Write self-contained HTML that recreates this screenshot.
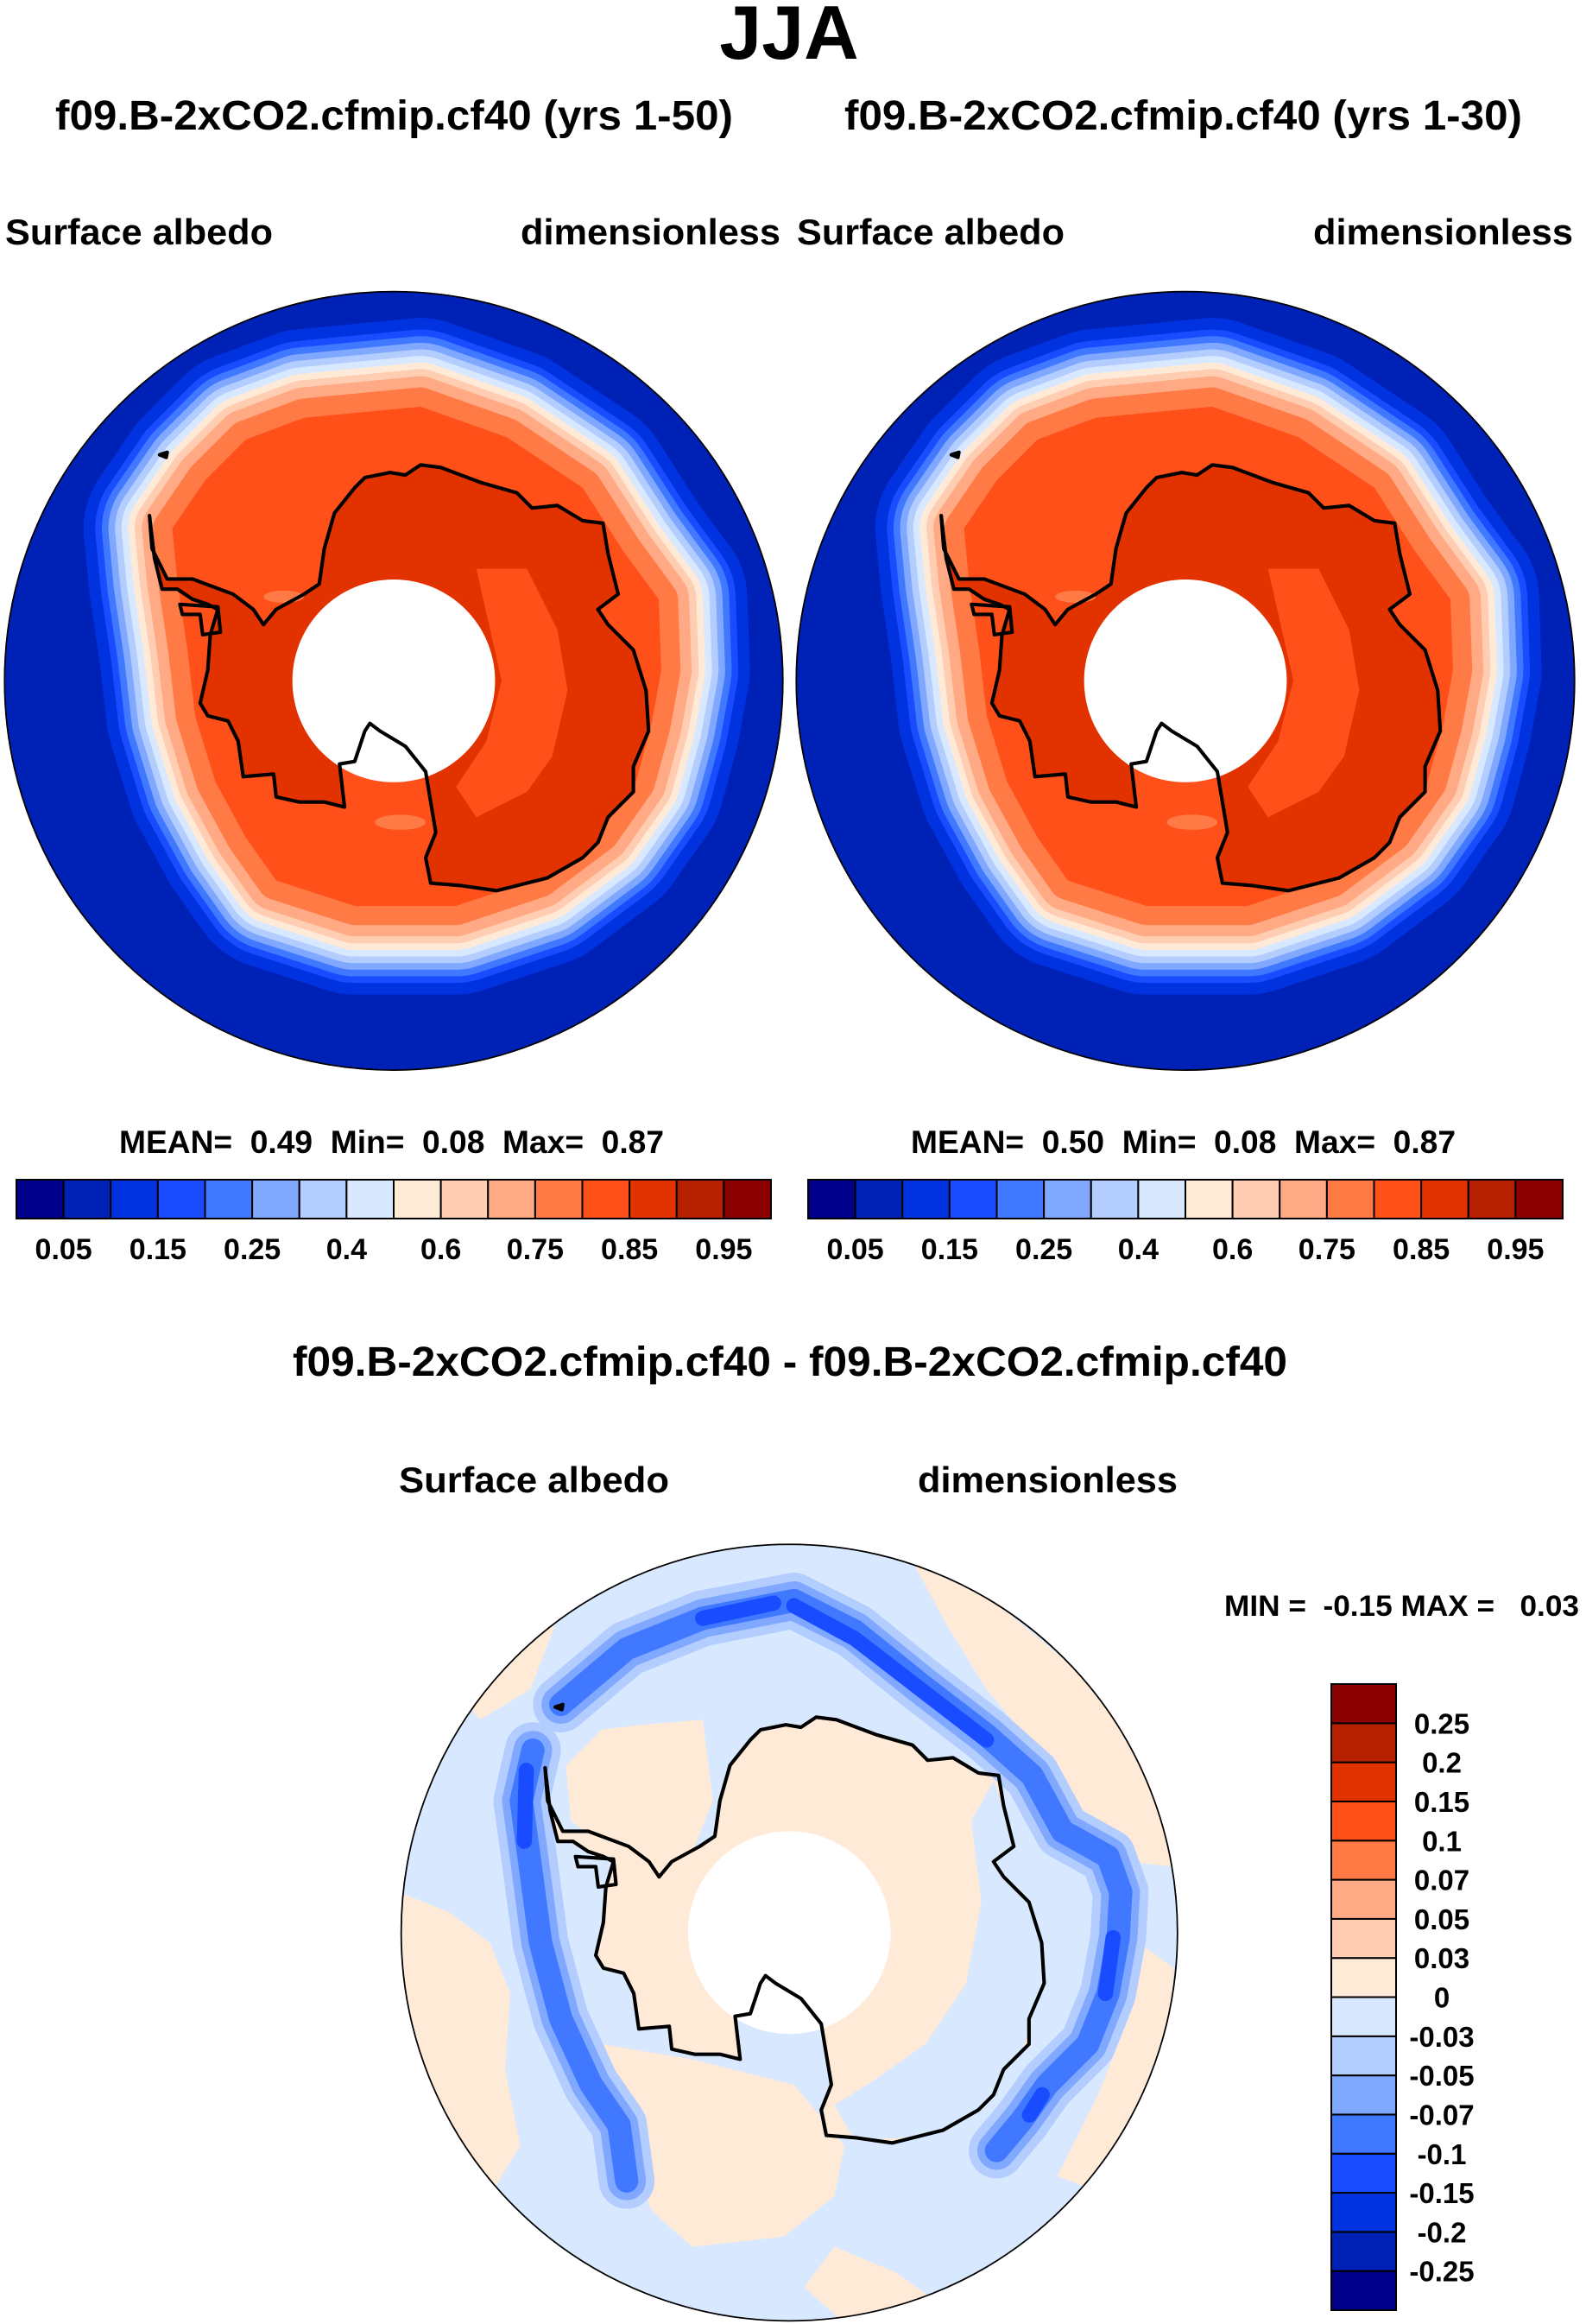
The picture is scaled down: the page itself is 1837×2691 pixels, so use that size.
<!DOCTYPE html>
<html><head><meta charset="utf-8">
<style>
html,body{margin:0;padding:0;background:#fff;}
svg{display:block;}
text{font-family:"Liberation Sans",Arial,sans-serif;font-weight:bold;fill:#000;}
</style></head>
<body>
<svg id="fig" width="1837" height="2691" viewBox="0 0 1837 2691" xmlns="http://www.w3.org/2000/svg">
<defs>
  <clipPath id="clipA"><circle cx="777" cy="781" r="768"/></clipPath>
  <clipPath id="clipB"><circle cx="791" cy="780" r="766"/></clipPath>
</defs>
<text x="914" y="68" font-size="88" text-anchor="middle">JJA</text>
<text x="64" y="150" font-size="48" textLength="785" lengthAdjust="spacingAndGlyphs">f09.B-2xCO2.cfmip.cf40 (yrs 1-50)</text>
<text x="978" y="150" font-size="48" textLength="785" lengthAdjust="spacingAndGlyphs">f09.B-2xCO2.cfmip.cf40 (yrs 1-30)</text>
<text x="6" y="283" font-size="42" textLength="310" lengthAdjust="spacingAndGlyphs">Surface albedo</text>
<text x="603" y="283" font-size="42" textLength="301" lengthAdjust="spacingAndGlyphs">dimensionless</text>
<text x="923" y="283" font-size="42" textLength="310" lengthAdjust="spacingAndGlyphs">Surface albedo</text>
<text x="1521" y="283" font-size="42" textLength="301" lengthAdjust="spacingAndGlyphs">dimensionless</text>

<g id="mapL" transform="translate(0,330) scale(0.5869)"></g>
<g id="mapR" transform="translate(917,330) scale(0.5869)"></g>

<text x="138" y="1335" font-size="37" textLength="631" lengthAdjust="spacingAndGlyphs" xml:space="preserve">MEAN=  0.49  Min=  0.08  Max=  0.87</text>
<text x="1055" y="1335" font-size="37" textLength="631" lengthAdjust="spacingAndGlyphs" xml:space="preserve">MEAN=  0.50  Min=  0.08  Max=  0.87</text>
<g id="cbL"></g>
<g id="cbR"></g>

<text x="339" y="1593" font-size="48" textLength="1152" lengthAdjust="spacingAndGlyphs">f09.B-2xCO2.cfmip.cf40 - f09.B-2xCO2.cfmip.cf40</text>
<text x="462" y="1728" font-size="42" textLength="313" lengthAdjust="spacingAndGlyphs">Surface albedo</text>
<text x="1063" y="1728" font-size="42" textLength="301" lengthAdjust="spacingAndGlyphs">dimensionless</text>
<text x="1418" y="1871" font-size="34" textLength="411" lengthAdjust="spacingAndGlyphs" xml:space="preserve">MIN =  -0.15 MAX =   0.03</text>

<g id="mapD" transform="translate(450,1780) scale(0.5869)"></g>
<g id="cbD"></g>
</svg>
<script>
// ---- colorbar data ----
const absColors = ["#00008a","#0021b5","#0032e0","#1a4cff","#4078ff","#80a8ff","#b4cdff","#d8e9ff","#ffead8","#ffcdb2","#ffaa85","#ff7a45","#ff501a","#e23200","#b42000","#8b0000"];
const absLevels = ["0.05","0.1","0.15","0.2","0.25","0.3","0.4","0.5","0.6","0.7","0.75","0.8","0.85","0.9","0.95"];
const absShown = [true,false,true,false,true,false,true,false,true,false,true,false,true,false,true];
const diffColors = ["#00008a","#0021b5","#0032e0","#1a4cff","#4078ff","#80a8ff","#b4cdff","#d8e9ff","#ffead8","#ffcdb2","#ffaa85","#ff7a45","#ff501a","#e23200","#b42000","#8b0000"];
const diffLevels = ["-0.25","-0.2","-0.15","-0.1","-0.07","-0.05","-0.03","0","0.03","0.05","0.07","0.1","0.15","0.2","0.25"];
// band offsets (distance outward from the sea-ice edge) for the two albedo maps
const bandColors = ["#0032e0","#1a4cff","#4078ff","#80a8ff","#b4cdff","#d8e9ff","#ffead8","#ffcdb2","#ffaa85","#ff7a45"];
const bandOffsets = [175,152,139,126,113,100,87,74,60,38];

const NS="http://www.w3.org/2000/svg";
function mk(tag, attrs, parent){const e=document.createElementNS(NS,tag);for(const k in attrs)e.setAttribute(k,attrs[k]);if(parent)parent.appendChild(e);return e;}

function hColorbar(g, x0, x1, y0, y1){
  const n=absColors.length, w=(x1-x0)/n;
  absColors.forEach((c,i)=>{
    const r=mk('rect',{x:x0+i*w,y:y0,width:w,height:y1-y0,fill:c,stroke:'#000','stroke-width':2},g);
    
    
  });
  absLevels.forEach((l,i)=>{
    if(!absShown[i])return;
    const t=mk('text',{x:x0+(i+1)*w,y:1458,'font-size':34,'text-anchor':'middle'},g);
    t.textContent=l;
    
    
  });
}
hColorbar(document.getElementById('cbL'),19,893,1366,1411);
hColorbar(document.getElementById('cbR'),936,1810,1366,1411);

(function(){
  const g=document.getElementById('cbD');
  const x0=1542,x1=1617,y0=1950,y1=2675,n=diffColors.length,h=(y1-y0)/n;
  diffColors.forEach((c,i)=>{
    const r=mk('rect',{x:x0,y:y1-(i+1)*h,width:x1-x0,height:h,fill:c,stroke:'#000','stroke-width':2},g);
    
    
  });
  diffLevels.forEach((l,i)=>{
    const t=mk('text',{x:1670,y:y1-(i+1)*h+12,'font-size':33,'text-anchor':'middle'},g);
    t.textContent=l;
    
    
  });
})();

// ---- map geometry (zoom-display coordinates) ----
const iceEdge="M600,262 L830,240 L1000,300 L1150,400 L1230,525 L1300,620 L1305,760 L1285,870 L1255,980 L1185,1080 L1065,1170 L900,1225 L700,1225 L545,1175 L485,1090 L425,980 L385,850 L370,720 L350,585 L340,480 L405,385 L485,305 Z";
const coast="M295,455 L300,520 L330,580 L380,580 L460,610 L500,640 L520,670 L545,640 L600,610 L630,590 L640,520 L660,450 L700,400 L720,380 L770,370 L800,375 L830,355 L870,360 L950,390 L1020,410 L1050,440 L1100,435 L1150,465 L1190,470 L1200,530 L1220,610 L1180,640 L1200,670 L1250,720 L1275,800 L1280,880 L1250,950 L1250,1000 L1200,1050 L1180,1100 L1150,1130 L1080,1170 L980,1195 L910,1185 L850,1180 L840,1130 L860,1080 L850,1020 L840,960 L800,910 L750,880 L730,865 L720,880 L700,940 L670,945 L680,1030 L640,1020 L590,1020 L545,1010 L540,965 L480,970 L470,900 L450,860 L410,850 L395,825 L410,760 L415,690 L430,640 L410,630 L380,620 L350,600 L320,600 L305,540 Z";
const islands="M355,630 L430,635 L435,685 L400,690 L395,650 L360,650 Z M315,335 L330,330 L328,340 Z";

function albedoMap(g){
  const base=mk('circle',{cx:777,cy:781,r:768,fill:'#0021b5'},g);
   
  const inner=mk('g',{'clip-path':'url(#clipA)'},g);
  bandColors.forEach((c,i)=>{
    const p=mk('path',{d:iceEdge,fill:c,stroke:c,'stroke-width':2*bandOffsets[i],'stroke-linejoin':'round'},inner);
     
  });
  const ice=mk('path',{d:iceEdge,fill:'#ff501a'},inner);
   
  const land=mk('path',{d:coast,fill:'#e23200'},inner);
   
  const light=mk('path',{d:"M940,560 L1040,560 L1100,680 L1120,800 L1090,930 L1040,1000 L940,1050 L900,990 L960,900 L990,780 Z",fill:'#ff501a'},inner);
   
  mk('ellipse',{cx:790,cy:1060,rx:50,ry:15,fill:'#ff7a45'},inner);
  mk('ellipse',{cx:560,cy:615,rx:40,ry:12,fill:'#ff7a45'},inner);
  const hole=mk('circle',{cx:777,cy:781,r:200,fill:'#fff'},g);
   
  const cl=mk('path',{d:coast+' '+islands,fill:'none',stroke:'#000','stroke-width':7,'stroke-linejoin':'round'},g);
   
  const rim=mk('circle',{cx:777,cy:781,r:768,fill:'none',stroke:'#000','stroke-width':3},g);
   
}
albedoMap(document.getElementById('mapL'));
albedoMap(document.getElementById('mapR'));

(function(){
  const g=document.getElementById('mapD');
  const bg=mk('circle',{cx:791,cy:780,r:766,fill:'#d8e9ff'},g);
   
  const inner=mk('g',{'clip-path':'url(#clipB)'},g);
  const peach=["M20,700 L120,740 L200,800 L240,900 L230,1050 L260,1200 L200,1300 L120,1250 L40,1100 Z",
    "M420,1000 L600,1030 L800,1080 L900,1200 L880,1300 L780,1380 L600,1400 L520,1330 L470,1200 Z",
    "M1030,40 L1200,130 L1380,280 L1500,420 L1550,650 L1460,640 L1350,560 L1280,420 L1180,300 L1100,170 Z",
    "M1480,800 L1550,850 L1530,1100 L1420,1300 L1320,1260 L1400,1100 L1460,950 Z",
    "M350,450 L420,380 L500,370 L620,360 L640,520 L600,620 L540,670 L440,620 L360,560 Z",
    "M880,1400 L1000,1450 L1100,1520 L900,1550 L820,1480 Z",
    "M90,250 L220,180 L330,170 L280,300 L180,360 Z"];
  peach.forEach(d=>{const p=mk('path',{d:d,fill:'#ffead8'},inner);
     });
  const land=mk('path',{d:coast,fill:'#ffead8',transform:'translate(14,0)'},inner);
   
  const east=mk('path',{d:"M1195,480 L1240,620 L1290,750 L1290,900 L1255,1000 L1210,1100 L1100,1180 L920,1190 L880,1120 L960,1070 L1060,1000 L1140,880 L1170,720 L1150,560 Z",fill:'#d8e9ff'},inner);
   
  const arcs=["M340,330 L470,220 L620,160 L800,125 L920,185 L1050,290 L1180,390 L1270,470 L1330,580 L1420,630 L1445,700 L1440,790 L1420,900 L1380,1000 L1300,1080 L1250,1150 L1200,1210",
              "M285,420 L262,520 L280,650 L300,800 L340,950 L400,1080 L455,1160 L470,1270"];
  const widths=[110,76,46];
  const cols=["#b4cdff","#80a8ff","#4078ff"];
  arcs.forEach(d=>{cols.forEach((c,i)=>{
    const p=mk('path',{d:d,fill:'none',stroke:c,'stroke-width':widths[i],'stroke-linejoin':'round','stroke-linecap':'round'},inner);
     });});
  const cores=["M800,135 L920,200 L1050,300 L1180,400","M272,460 L268,600","M1430,790 L1415,900","M1290,1100 L1265,1140","M620,160 L760,130"];
  cores.forEach(d=>{const p=mk('path',{d:d,fill:'none',stroke:'#1a4cff','stroke-width':30,'stroke-linecap':'round','stroke-linejoin':'round'},inner);
     });
  const hole=mk('circle',{cx:791,cy:780,r:200,fill:'#fff'},g);
   
  const cl=mk('path',{d:coast+' '+islands,fill:'none',stroke:'#000','stroke-width':7,'stroke-linejoin':'round',transform:'translate(14,0)'},g);
   
  const rim=mk('circle',{cx:791,cy:780,r:766,fill:'none',stroke:'#000','stroke-width':3},g);
   
})();
</script>
</body></html>
